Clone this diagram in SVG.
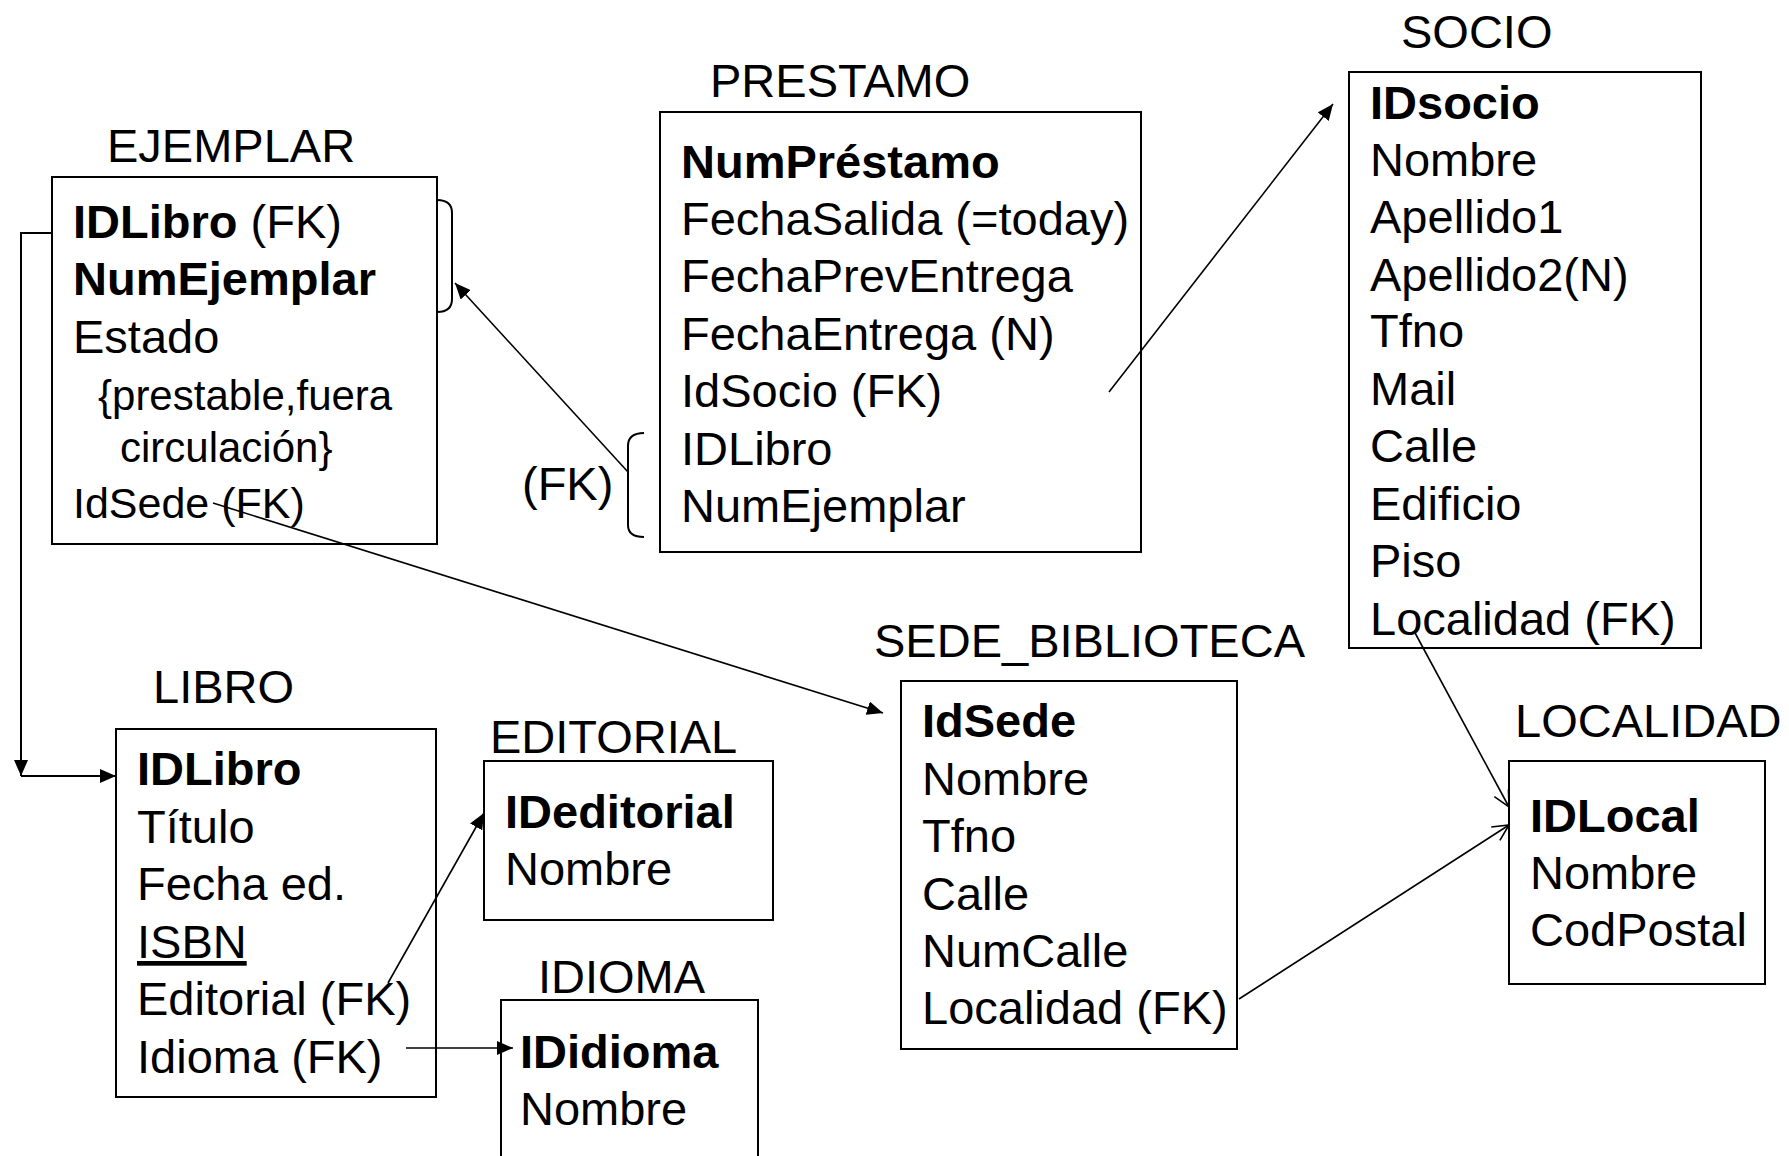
<svg xmlns="http://www.w3.org/2000/svg" width="1789" height="1156" viewBox="0 0 1789 1156">
<style>
text{font-family:"Liberation Sans",Arial,sans-serif;font-size:47px;fill:#000}
.t{font-size:47px}
.b{font-weight:bold}
.box{fill:none;stroke:#000;stroke-width:2}
.c{fill:none;stroke:#000;stroke-width:1.6}
.br{fill:none;stroke:#000;stroke-width:2}
</style>
<defs>
<marker id="fa" viewBox="0 0 16 14" refX="16" refY="7" markerWidth="16" markerHeight="14" orient="auto" markerUnits="userSpaceOnUse"><path d="M0,0 L16,7 L0,14 z" fill="#000"/></marker>
<marker id="oa" viewBox="0 0 18 18" refX="17" refY="9" markerWidth="18" markerHeight="18" orient="auto" markerUnits="userSpaceOnUse"><path d="M1,1 L17,9 L1,17" fill="none" stroke="#000" stroke-width="1.6"/></marker>
</defs>
<rect width="1789" height="1156" fill="#fff"/>

<g id="ejemplar">
<text x="107" y="162">EJEMPLAR</text>
<rect class="box" x="52" y="177" width="385" height="367"/>
<text x="73" y="238"><tspan class="b">IDLibro</tspan> (FK)</text>
<text x="73" y="295" class="b">NumEjemplar</text>
<text x="73" y="353">Estado</text>
<text x="98" y="410" style="font-size:42px">{prestable,fuera</text>
<text x="120" y="462" style="font-size:42px">circulación}</text>
<text x="73" y="518" style="font-size:43px">IdSede (FK)</text>
<path class="br" d="M437,200 Q452,200 452,213 V299 Q452,312 437,312"/>
</g>

<g id="prestamo">
<text x="710" y="97">PRESTAMO</text>
<rect class="box" x="660" y="112" width="481" height="440"/>
<text x="681" y="178" class="b">NumPréstamo</text>
<text x="681" y="235">FechaSalida (=today)</text>
<text x="681" y="292">FechaPrevEntrega</text>
<text x="681" y="350">FechaEntrega (N)</text>
<text x="681" y="407">IdSocio (FK)</text>
<text x="681" y="465">IDLibro</text>
<text x="681" y="522">NumEjemplar</text>
<text x="522" y="500">(FK)</text>
<path class="br" d="M644,433 Q628,433 628,446 V525 Q628,537 644,537"/>
</g>

<g id="socio">
<text x="1401" y="48">SOCIO</text>
<rect class="box" x="1349" y="72" width="352" height="576"/>
<text x="1370" y="119" class="b">IDsocio</text>
<text x="1370" y="176">Nombre</text>
<text x="1370" y="233">Apellido1</text>
<text x="1370" y="291">Apellido2(N)</text>
<text x="1370" y="347">Tfno</text>
<text x="1370" y="405">Mail</text>
<text x="1370" y="462">Calle</text>
<text x="1370" y="520">Edificio</text>
<text x="1370" y="577">Piso</text>
<text x="1370" y="635">Localidad (FK)</text>
</g>

<g id="sede_biblioteca">
<text x="874" y="657">SEDE_BIBLIOTECA</text>
<rect class="box" x="901" y="681" width="336" height="368"/>
<text x="922" y="737" class="b">IdSede</text>
<text x="922" y="795">Nombre</text>
<text x="922" y="852">Tfno</text>
<text x="922" y="910">Calle</text>
<text x="922" y="967">NumCalle</text>
<text x="922" y="1024">Localidad (FK)</text>
</g>

<g id="localidad">
<text x="1515" y="737">LOCALIDAD</text>
<rect class="box" x="1509" y="761" width="256" height="223"/>
<text x="1530" y="832" class="b">IDLocal</text>
<text x="1530" y="889">Nombre</text>
<text x="1530" y="946">CodPostal</text>
</g>

<g id="libro">
<text x="153" y="703">LIBRO</text>
<rect class="box" x="116" y="729" width="320" height="368"/>
<text x="137" y="785" class="b">IDLibro</text>
<text x="137" y="843">Título</text>
<text x="137" y="900">Fecha ed.</text>
<text x="137" y="958" text-decoration="underline">ISBN</text>
<text x="137" y="1015">Editorial (FK)</text>
<text x="137" y="1073">Idioma (FK)</text>
</g>

<g id="editorial">
<text x="490" y="753">EDITORIAL</text>
<rect class="box" x="484" y="761" width="289" height="159"/>
<text x="505" y="828" class="b">IDeditorial</text>
<text x="505" y="885">Nombre</text>
</g>

<g id="idioma">
<text x="538" y="993">IDIOMA</text>
<rect class="box" x="501" y="1000" width="257" height="170"/>
<text x="520" y="1068" class="b">IDidioma</text>
<text x="520" y="1125">Nombre</text>
</g>

<g id="connectors">
<path class="c" d="M52,233 H21 V776" marker-end="url(#fa)" style="stroke-width:2"/>
<path class="c" d="M21,776 H116" marker-end="url(#fa)" style="stroke-width:2"/>
<line class="c" x1="628" y1="472" x2="455" y2="283" marker-end="url(#fa)"/>
<line class="c" x1="1109" y1="392" x2="1333" y2="104" marker-end="url(#fa)"/>
<line class="c" x1="213" y1="503" x2="883" y2="713" marker-end="url(#fa)"/>
<line class="c" x1="388" y1="983" x2="484" y2="813" marker-end="url(#fa)"/>
<line class="c" x1="406" y1="1048" x2="513" y2="1048" marker-end="url(#fa)"/>
<line class="c" x1="1414" y1="631" x2="1509" y2="807" marker-end="url(#oa)"/>
<line class="c" x1="1239" y1="999" x2="1509" y2="825" marker-end="url(#oa)"/>
</g>
</svg>
